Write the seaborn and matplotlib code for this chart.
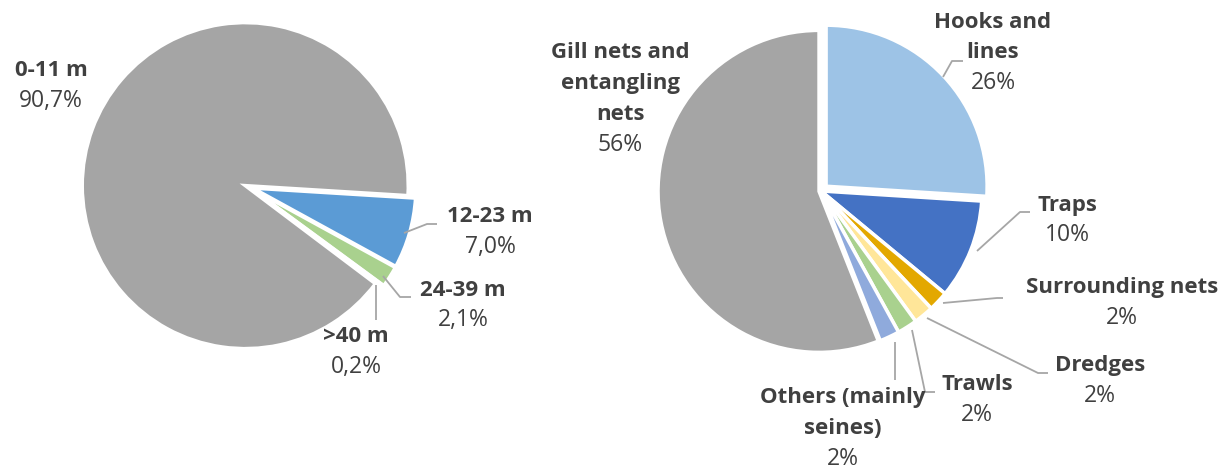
import matplotlib
matplotlib.use("Agg")
import matplotlib.pyplot as plt
import seaborn as sns

# Data
length_labels = ["0-11 m", "12-23 m", "24-39 m", ">40 m"]
length_shares = [90.7, 7.0, 2.1, 0.2]
length_pct_text = ["90,7%", "7,0%", "2,1%", "0,2%"]
length_colors = ["#A5A5A5", "#5B9BD5", "#A9D18E", "#4472C4"]

gear_labels = ["Hooks and\nlines", "Traps", "Surrounding nets", "Dredges",
               "Trawls", "Others (mainly\nseines)", "Gill nets and\nentangling\nnets"]
gear_shares = [26, 10, 2, 2, 2, 2, 56]
gear_colors = ["#9DC3E6", "#4472C4", "#E3A800", "#FFE699",
               "#A9D18E", "#8FAADC", "#A5A5A5"]

sns.set_style("white")
plt.rcParams["font.family"] = ["Open Sans", "DejaVu Sans"]

W, H = 1228, 471
TXT = "#404040"
LINE = "#A6A6A6"

fig = plt.figure(figsize=(W / 100, H / 100), dpi=100)
ax = fig.add_axes([0, 0, 1, 1])

wp = dict(edgecolor="white", linewidth=2.5)

# left pie: vessel length
ax.pie(length_shares, colors=length_colors, startangle=-37, counterclock=False,
       center=(249, H - 187), radius=163, explode=[4, 4, 4, 4],
       wedgeprops=wp, frame=True)

# right pie: fishing gear
ax.pie(gear_shares, colors=gear_colors, startangle=90, counterclock=False,
       center=(821, H - 191), radius=161, explode=[7, 0, 0, 0, 0, 0, 2],
       wedgeprops=wp, frame=True)

ax.set_xlim(0, W)
ax.set_ylim(0, H)
ax.set_aspect("equal")
ax.axis("off")

LS = 31  # line step in px


def label(x, y, name, pct):
    lines = name.split("\n")
    for i, ln in enumerate(lines):
        ax.text(x, H - (y + i * LS), ln, ha="center", va="center",
                fontsize=16, fontweight="bold", color=TXT)
    ax.text(x, H - (y + len(lines) * LS - 1), pct, ha="center", va="center",
            fontsize=16.5, color=TXT)


def leader(pts):
    ax.plot([p[0] for p in pts], [H - p[1] for p in pts], color=LINE, lw=1.3,
            solid_capstyle="butt")


# left labels
label(51, 71, length_labels[0], length_pct_text[0])
label(490, 217, length_labels[1], length_pct_text[1])
label(463, 290, length_labels[2], length_pct_text[2])
label(356, 337, length_labels[3], length_pct_text[3])
leader([(404, 233), (427, 224), (437, 224)])
leader([(383, 276), (400, 297), (411, 297)])
leader([(376, 285), (376, 320)])

# right labels
gear_pct = [f"{v}%" for v in gear_shares]
label(993, 22, gear_labels[0], gear_pct[0])
label(1067, 205, gear_labels[1], gear_pct[1])
label(1122, 288, gear_labels[2], gear_pct[2])
label(1100, 366, gear_labels[3], gear_pct[3])
label(977, 385, gear_labels[4], gear_pct[4])
label(843, 398, gear_labels[5], gear_pct[5])
label(620, 53, gear_labels[6], gear_pct[6])
leader([(943, 77), (952, 61), (963, 61)])
leader([(977, 251), (1020, 212), (1030, 212)])
leader([(943, 303), (997, 298), (1003, 298)])
leader([(927, 318), (1038, 373), (1048, 373)])
leader([(912, 330), (925, 392), (935, 392)])
leader([(895, 342), (895, 380)])

fig.savefig("out.png", dpi=100)
